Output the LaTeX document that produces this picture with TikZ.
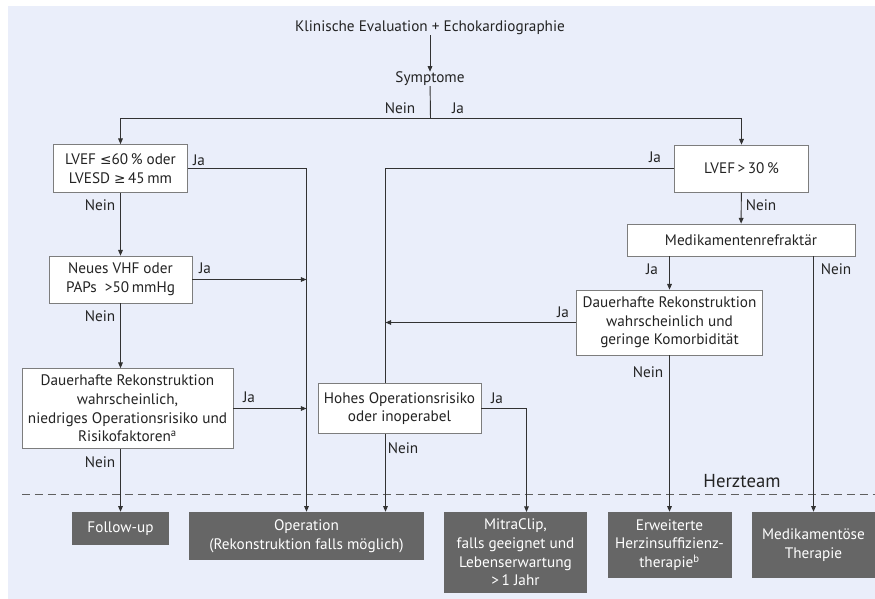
\documentclass[tikz,border=0pt]{standalone}
\usepackage{fontspec}
\setmainfont{PT Sans}
\newfontfamily\relfont{DejaVu Sans}[Scale=0.9]
\usetikzlibrary{arrows.meta,calc}
\definecolor{ink}{RGB}{35,35,35}
\definecolor{linegray}{RGB}{50,50,50}
\definecolor{boxborder}{RGB}{125,125,125}
\definecolor{panelfill}{RGB}{234,238,250}
\definecolor{outcomefill}{RGB}{102,102,102}
\definecolor{teamline}{RGB}{95,95,95}

\begin{document}
\begin{tikzpicture}[
  x=0.03cm,
  y=-0.03cm,
  font=\rmfamily\fontsize{13}{15.9}\selectfont,
  question/.style={
    draw=boxborder,
    fill=white,
    line width=0.6pt,
    text=ink,
    align=center,
    inner sep=0pt
  },
  outcome/.style={
    fill=outcomefill,
    text=white,
    align=center,
    inner sep=0pt
  },
  label/.style={
    text=ink,
    inner sep=0pt
  },
  flow/.style={
    draw=linegray,
    line width=0.8pt
  },
  arrow/.style={
    flow,
    -{Triangle[length=1.7mm,width=1.4mm]}
  }
]
\useasboundingbox (0,0) rectangle (875,599);

% Background panel.
\fill[white] (0,0) rectangle (875,599);
\fill[panelfill] (8,6) rectangle (875,599);

% ---------------------------------------------------------------------------
% Entry and first split.
% ---------------------------------------------------------------------------
\node[label] (title) at (430,28) {Klinische Evaluation + Echokardiographie};
\node[label] (symptome) at (430,79) {Symptome};
\coordinate (split) at (430.5,118.5);
\node[label] (neinsplit) at (400,108) {Nein};
\node[label] (jasplit) at (458,108) {Ja};

% ---------------------------------------------------------------------------
% Asymptomatic branch (left).
% ---------------------------------------------------------------------------
\node[question,minimum width=4.02cm,minimum height=1.44cm] (lvefsixty)
  at (120.5,168.5) {LVEF {\relfont ≤}60\,\% oder\\LVESD {\relfont ≥}\,45\,mm};
\node[question,minimum width=4.29cm,minimum height=1.41cm] (vhf)
  at (120.5,279.5) {Neues VHF oder\\PAPs~~>50\,mmHg};
\node[question,minimum width=6.33cm,minimum height=2.40cm] (reconleft)
  at (127.5,408.5)
  {Dauerhafte Rekonstruktion\\wahrscheinlich,\\niedriges Operationsrisiko und\\Risikofaktoren\textsuperscript{a}};

\node[label] (jasixty) at (199,160) {Ja};
\node[label] (neinsixty) at (100,205) {Nein};
\node[label] (javhf) at (205,268) {Ja};
\node[label] (neinvhf) at (100,316) {Nein};
\node[label] (jaleft) at (249,397) {Ja};
\node[label] (neinleft) at (100,462) {Nein};

% ---------------------------------------------------------------------------
% Symptomatic branch (right).
% ---------------------------------------------------------------------------
\node[question,minimum width=4.02cm,minimum height=1.41cm] (lveftirty)
  at (741.5,168.5) {LVEF\,>\,30\,\%};
\node[question,minimum width=6.84cm,minimum height=0.96cm] (refrakt)
  at (741,240) {Medikamentenrefraktär};
\node[question,minimum width=5.58cm,minimum height=1.95cm] (reconright)
  at (669.5,322.5)
  {Dauerhafte Rekonstruktion\\wahrscheinlich und\\geringe Komorbidität};
\node[question,minimum width=4.89cm,minimum height=1.50cm] (oprisk)
  at (399.5,408.5) {Hohes Operationsrisiko\\oder inoperabel};

\node[label] (jatirty) at (655,157) {Ja};
\node[label] (neintirty) at (761,205) {Nein};
\node[label] (jarefrakt) at (652,269) {Ja};
\node[label] (neinrefrakt) at (836,269) {Nein};
\node[label] (jaright) at (563,312) {Ja};
\node[label] (neinright) at (648,372) {Nein};
\node[label] (jarisk) at (497,398) {Ja};
\node[label] (neinrisk) at (403,448) {Nein};

% ---------------------------------------------------------------------------
% Heart team line and outcomes.
% ---------------------------------------------------------------------------
\draw[teamline,line width=0.8pt,dash pattern=on 6.8pt off 4.2pt]
  (22,494.5) -- (875,494.5);
\node[label,font=\rmfamily\fontsize{16}{18}\selectfont] (herzteam)
  at (742,481) {Herzteam};

\node[outcome,minimum width=2.91cm,minimum height=0.99cm] (followup)
  at (120.5,528.5) {Follow-up};
\node[outcome,minimum width=7.05cm,minimum height=1.44cm] (operation)
  at (306.5,536) {Operation\\(Rekonstruktion falls möglich)};
\node[outcome,minimum width=4.29cm,minimum height=2.43cm] (mitraclip)
  at (515.5,552.5) {MitraClip,\\falls geeignet und\\Lebenserwartung\\>\,1 Jahr};
\node[outcome,minimum width=3.72cm,minimum height=1.98cm] (hfther)
  at (669.5,545) {Erweiterte\\Herzinsuffizienz-\\therapie\textsuperscript{b}};
\node[outcome,minimum width=3.72cm,minimum height=1.98cm] (medther)
  at (813.5,545) {Medikamentöse\\Therapie};

% ---------------------------------------------------------------------------
% Connectors.
% ---------------------------------------------------------------------------
\draw[arrow] (title) -- (symptome);
\draw[flow] (symptome) -- (split);
\draw[arrow] (split) -| (lvefsixty);
\draw[arrow] (split) -| (lveftirty);

\draw[arrow] (lvefsixty.east) -| (operation);
\draw[arrow] (vhf.east) -- (vhf.east -| operation);
\draw[arrow] (reconleft.east) -- (reconleft.east -| operation);
\draw[arrow] (lvefsixty) -- (vhf);
\draw[arrow] (vhf.south) -- (vhf.south |- reconleft.north);
\draw[arrow] (vhf.south |- reconleft.south) -- (followup);

\coordinate (rail) at (385.5,168.5);
\draw[flow] (lveftirty.west) -- (rail) -- (rail |- oprisk.north);
\draw[arrow] (reconright.west) -- (reconright.west -| rail);
\draw[arrow] (rail |- oprisk.south) -- (rail |- operation.north);
\coordinate (clipin) at (526.5,512);
\draw[arrow] (oprisk.east) -| (clipin);

\draw[arrow] (lveftirty) -- (refrakt);
\draw[arrow] (refrakt.south -| reconright) -- (reconright);
\draw[arrow] (reconright) -- (hfther);
\draw[arrow] (refrakt.south -| medther) -- (medther);

\end{tikzpicture}
\end{document}
